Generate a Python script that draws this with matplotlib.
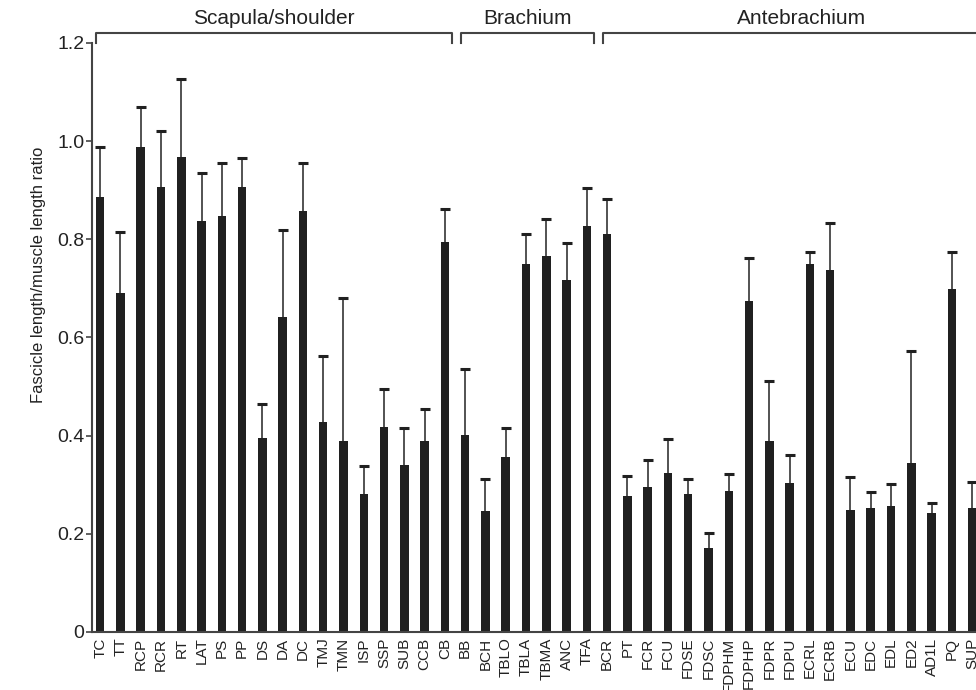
import matplotlib
matplotlib.use("Agg")
import matplotlib.pyplot as plt
import matplotlib.transforms as mtransforms
import numpy as np

plt.rcParams['font.family'] = ['Liberation Sans', 'DejaVu Sans']

# muscles, grouped by region
muscles = ['TC', 'TT', 'RCP', 'RCR', 'RT', 'LAT', 'PS', 'PP', 'DS', 'DA', 'DC',
           'TMJ', 'TMN', 'ISP', 'SSP', 'SUB', 'CCB', 'CB',
           'BB', 'BCH', 'TBLO', 'TBLA', 'TBMA', 'ANC', 'TFA',
           'BCR', 'PT', 'FCR', 'FCU', 'FDSE', 'FDSC', 'FDPHM', 'FDPHP', 'FDPR',
           'FDPU', 'ECRL', 'ECRB', 'ECU', 'EDC', 'EDL', 'ED2', 'AD1L', 'PQ', 'SUP']

# mean fascicle length / muscle length ratio
ratio = [0.887, 0.691, 0.989, 0.906, 0.968, 0.837, 0.848, 0.906, 0.395, 0.641, 0.857,
         0.428, 0.389, 0.281, 0.417, 0.340, 0.389, 0.795,
         0.401, 0.246, 0.356, 0.750, 0.766, 0.717, 0.827,
         0.811, 0.278, 0.295, 0.323, 0.281, 0.171, 0.287, 0.674, 0.389,
         0.303, 0.750, 0.738, 0.248, 0.252, 0.256, 0.344, 0.242, 0.698, 0.252]

# top of the error bar (mean + SD)
upper = [0.989, 0.814, 1.069, 1.021, 1.127, 0.935, 0.956, 0.966, 0.465, 0.818, 0.955,
         0.562, 0.681, 0.338, 0.496, 0.416, 0.454, 0.862,
         0.536, 0.312, 0.416, 0.810, 0.842, 0.793, 0.905,
         0.883, 0.318, 0.350, 0.393, 0.312, 0.202, 0.322, 0.761, 0.512,
         0.361, 0.775, 0.834, 0.316, 0.285, 0.302, 0.573, 0.263, 0.774, 0.306]

groups = ['Scapula/shoulder', 'Brachium', 'Antebrachium']
group_first = ['TC', 'BB', 'BCR']
group_last = ['CB', 'TFA', None]   # last group runs off the right edge

fig = plt.figure(figsize=(9.76, 6.90), dpi=100)
ax = fig.add_axes([0.0943, 0.0841, 0.9433, 0.8536])

x = np.arange(len(muscles))
dark = '#202020'
ax.bar(x, ratio, width=0.42, color=dark, zorder=2)
ax.vlines(x, ratio, upper, color='#444444', linewidth=1.3, zorder=1)
ax.plot(x, upper, linestyle='none', marker='_', markersize=7.5,
        markeredgewidth=2.2, color=dark, zorder=3)

ax.set_xlim(-0.4, 45.0)
ax.set_ylim(0, 1.2)
ax.set_yticks([0, 0.2, 0.4, 0.6, 0.8, 1.0, 1.2])
ax.set_yticklabels(['0', '0.2', '0.4', '0.6', '0.8', '1.0', '1.2'], fontsize=14,
                   color='#222222')
ax.set_xticks(x)
ax.set_xticklabels(muscles, rotation=90, fontsize=11, color='#222222')
ax.tick_params(axis='x', length=0, pad=4)
ax.tick_params(axis='y', length=4.5, width=1.2, color='#444444', pad=1)
ax.set_ylabel('Fascicle length/muscle length ratio', fontsize=12, color='#222222')
ax.yaxis.set_label_coords(-0.050, 0.606)

for side in ['top', 'right']:
    ax.spines[side].set_visible(False)
for side in ['left', 'bottom']:
    ax.spines[side].set_color('#444444')
    ax.spines[side].set_linewidth(1.5)

# region brackets above the plot
trans = mtransforms.blended_transform_factory(ax.transData, ax.transAxes)
for name, first, last in zip(groups, group_first, group_last):
    left = muscles.index(first) - 0.2
    right = muscles.index(last) + 0.35 if last else 44.4
    ax.plot([left, left, right, right], [1.0, 1.017, 1.017, 1.0], color='#444444',
            linewidth=1.5, transform=trans, clip_on=False)
    ax.text((left + right) / 2, 1.026, name, transform=trans, ha='center',
            va='bottom', fontsize=15, color='#222222')

fig.savefig('out.png', dpi=100)
